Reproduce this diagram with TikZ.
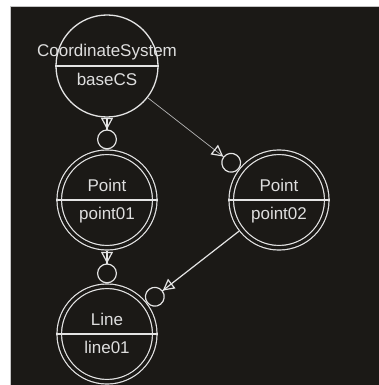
\documentclass[tikz,border=0pt]{standalone}
\usepackage{fontspec}
\setmainfont{Liberation Sans}
\usetikzlibrary{arrows.meta,calc}
\definecolor{bg}{HTML}{1B1916}
\definecolor{fg}{HTML}{E4E4E4}
\definecolor{txt}{HTML}{DEDEDE}
\definecolor{thinln}{HTML}{B4B4B4}
\definecolor{framecol}{HTML}{C4C4C4}
\begin{document}
\begin{tikzpicture}[x=1pt,y=-1pt,
  single/.style={circle, draw=fg, line width=1.3pt, minimum size=102pt, inner sep=0pt},
  dbl/.style={circle, draw=fg, line width=1.2pt, double=bg, double distance=3.3pt,
              minimum size=95.5pt, inner sep=0pt, outer sep=2.85pt},
  lbl/.style={text=txt, font=\fontsize{17pt}{20pt}\selectfont, anchor=base, inner sep=0pt},
  divider/.style={draw=fg, line width=1.2pt},
  endtip/.style={-{Triangle[open,length=11.5pt,width=12pt,line width=1.2pt,color=fg]
                   Circle[open,length=20pt,line width=1.2pt,color=fg]}},
  conn/.style={draw=fg, line width=1.2pt, endtip},
  thinconn/.style={draw=thinln, line width=0.7pt, endtip}
]
\useasboundingbox (0,0) rectangle (379,385);
\fill[white] (0,0) rectangle (379,385);
\fill[bg] (10,7) rectangle (379,385);
\draw[framecol, line width=1pt] (10,385) -- (10,7) -- (379,7);

% nodes
\node[single] (cs)  at (107,66)  {};
\node[dbl]    (p01) at (107,200) {};
\node[dbl]    (p02) at (279,200) {};
\node[dbl]    (ln)  at (107,334) {};

% dividers
\draw[divider] (cs.west) -- (cs.east);
\draw[divider] (p01.west) -- (p01.east);
\draw[divider] (p02.west) -- (p02.east);
\draw[divider] (ln.west) -- (ln.east);

% labels
\node[lbl] (csA)  at ($(cs.center)+(0,-9)$)  {CoordinateSystem};
\node[lbl] (csB)  at ($(cs.center)+(0,20)$)  {baseCS};
\node[lbl] (p01A) at ($(p01.center)+(0,-9)$) {Point};
\node[lbl] (p01B) at ($(p01.center)+(0,19)$) {point01};
\node[lbl] (p02A) at ($(p02.center)+(0,-9)$) {Point};
\node[lbl] (p02B) at ($(p02.center)+(0,19)$) {point02};
\node[lbl] (lnA)  at ($(ln.center)+(0,-9)$)  {Line};
\node[lbl] (lnB)  at ($(ln.center)+(0,19)$)  {line01};

% connectors
\draw[conn] (cs) -- (p01);
\draw[thinconn] (cs) -- (p02);
\draw[conn] (p01) -- (ln);
\draw[conn] (p02) -- (ln);
\end{tikzpicture}
\end{document}
